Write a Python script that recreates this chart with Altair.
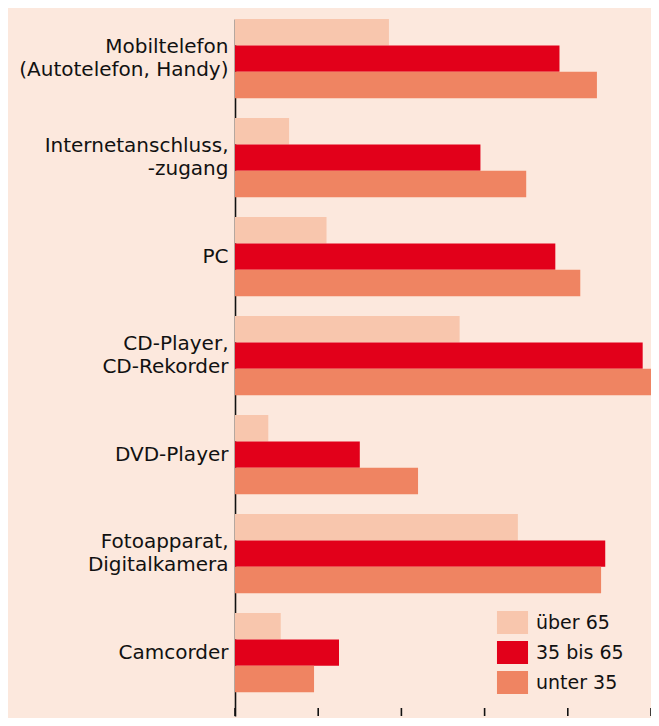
import altair as alt
import pandas as pd

categories = [
    "Mobiltelefon\u2005|(Autotelefon, Handy)",
    "Internetanschluss,|-zugang",
    "PC\u2005",
    "CD-Player,|CD-Rekorder",
    "DVD-Player",
    "Fotoapparat,|Digitalkamera",
    "Camcorder\u2005",
]
series = ["über 65", "35 bis 65", "unter 35"]
ueber65 = [37, 13, 22, 54, 8, 68, 11]
bis65 = [78, 59, 77, 98, 30, 89, 25]
unter35 = [87, 70, 83, 100, 44, 88, 19]
colors = ["#f8c6ad", "#e2001a", "#ef8462"]
tick_values = [0, 20, 40, 60, 80, 100]

rows = []
for i, c in enumerate(categories):
    for s, vals in zip(series, [ueber65, bis65, unter35]):
        rows.append({"cat": c, "series": s, "value": vals[i]})
df = pd.DataFrame(rows)
ticks_df = pd.DataFrame({"t": tick_values})

W, H = 416, 697
FONT = "DejaVu Sans"

xscale = alt.Scale(domain=[0, 100], nice=False, zero=True)

bars = alt.Chart(df).mark_bar(strokeWidth=0).encode(
    y=alt.Y(
        "cat:N",
        sort=categories,
        scale=alt.Scale(paddingInner=0.2, paddingOuter=0.12, align=0),
        axis=alt.Axis(
            title=None,
            labelExpr="split(datum.label, '|')",
            labelFont=FONT,
            labelFontSize=20,
            labelLineHeight=23,
            labelColor="#111111",
            labelPadding=7,
            labelAlign="right",
            labelBaseline="middle",
            labelOffset=alt.condition(
                "indexof(datum.value, '|') >= 0", alt.value(-11.5), alt.value(0)
            ),
            ticks=False,
            domainColor="#111111",
            domainWidth=1.6,
            labelLimit=300,
        ),
    ),
    yOffset=alt.YOffset(
        "series:N", sort=series, scale=alt.Scale(paddingInner=0, paddingOuter=0)
    ),
    x=alt.X(
        "value:Q",
        scale=xscale,
        axis=alt.Axis(
            title=None,
            labels=False,
            ticks=False,
            grid=False,
            domainColor="#111111",
            domainWidth=1.6,
        ),
    ),
    color=alt.Color(
        "series:N",
        sort=series,
        scale=alt.Scale(domain=series, range=colors),
        legend=alt.Legend(
            title=None,
            orient="none",
            legendX=266,
            legendY=592,
            symbolType="M-1.35,-1L1.35,-1L1.35,1L-1.35,1Z",
            symbolSize=529,
            symbolStrokeWidth=0,
            symbolOpacity=1,
            labelFont=FONT,
            labelFontSize=19,
            labelColor="#111111",
            labelOffset=12,
            rowPadding=7,
            padding=0,
        ),
    ),
)

tick_marks = alt.Chart(ticks_df).mark_rule(color="#111111", strokeWidth=1.6).encode(
    x=alt.X("t:Q", scale=xscale, axis=None),
    y=alt.value(H),
    y2=alt.value(H - 8),
)

chart = (
    alt.layer(bars, tick_marks)
    .properties(
        width=W,
        height=H,
        background="#fce8dd",
        padding={"left": 227, "top": 11, "right": 0, "bottom": 2},
        autosize=alt.AutoSizeParams(type="none"),
    )
    .configure_view(stroke=None)
)

chart.save("out.html", embed_options={"renderer": "svg", "actions": False})
